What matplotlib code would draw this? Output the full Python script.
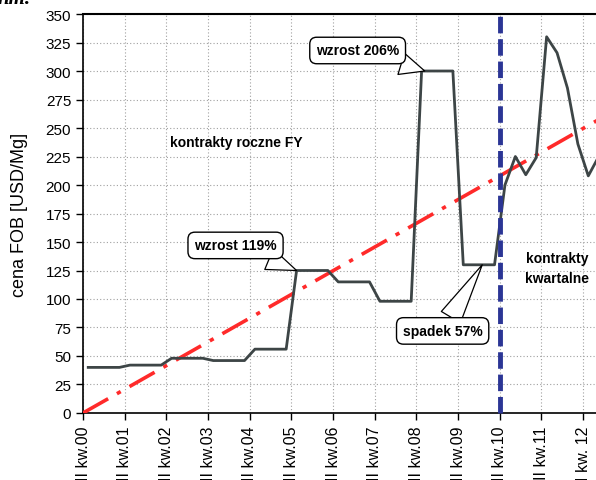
import matplotlib
matplotlib.use('Agg')
import matplotlib.pyplot as plt

plt.rcParams['font.family'] = ['Liberation Sans Narrow', 'Liberation Sans', 'DejaVu Sans']

# year tick labels (one per year, II quarter)
tick_years = list(range(13))
tick_labels = ['II kw.%02d' % y for y in range(12)] + ['I kw. 12']

# quarterly FOB price, starting II kw.00 (point at middle of each quarter)
quarter_t = [0.125 + 0.25 * k for k in range(50)]
price = [40, 40, 40, 40,
         42, 42, 42, 42,
         48, 48, 48, 48,
         46, 46, 46, 46,
         56, 56, 56, 56,
         125, 125, 125, 125,
         115, 115, 115, 115,
         98, 98, 98, 98,
         300, 300, 300, 300,
         130, 130, 130, 130,
         200, 225, 209, 224, 330, 316, 285, 236, 208, 225]

# trend line end points
trend_t = [0.0, 12.5]
trend_v = [0.0, 260.0]

# switch annual -> quarterly contracts
switch_t = [10.0, 10.0]
switch_v = [0, 352]

fig = plt.figure(figsize=(5.96, 4.81), dpi=100)
ax = fig.add_axes([0.1393, 0.1393, 0.8607, 0.8295])

ax.plot(trend_t, trend_v, color='#ff2a2a', lw=2.6, dashes=(8, 2.8, 1.2, 2.8), zorder=3)
ax.plot(quarter_t, price, color='#3d4546', lw=2.0, zorder=4)
ax.plot(switch_t, switch_v, color='#2b3595', lw=3.5, dashes=(3.4, 1.2), zorder=5, clip_on=False)

ax.set_xlim(0, 12.31)
ax.set_ylim(0, 350)
ax.set_yticks(range(0, 351, 25))
ax.set_xticks(tick_years)
ax.set_xticklabels(tick_labels, rotation=90, va='top', ha='center')
ax.tick_params(axis='both', length=5, width=1, direction='out')
ax.tick_params(axis='y', labelsize=11)
ax.tick_params(axis='x', labelsize=11.5, pad=4)
ax.grid(True, color='#a0a0a0', linestyle=(0, (1, 2)), lw=0.8)
ax.set_axisbelow(True)
ax.spines['right'].set_visible(False)
ax.spines['top'].set_linewidth(1.5)
ax.spines['left'].set_linewidth(1.2)
ax.spines['bottom'].set_linewidth(1.2)

ax.set_ylabel('cena FOB [USD/Mg]', fontsize=13)
ax.yaxis.set_label_coords(-0.108, 0.5)

ax.text(3.67, 238, 'kontrakty roczne FY', fontsize=10, fontweight='bold',
        ha='center', va='center')
ax.text(11.37, 127, 'kontrakty\nkwartalne', fontsize=10, fontweight='bold',
        ha='center', va='center', linespacing=1.5)

box = dict(boxstyle='round,pad=0.45,rounding_size=0.5', fc='white', ec='black', lw=1)
arrow = dict(arrowstyle='wedge,tail_width=1.6,shrink_factor=0.5', fc='white', ec='black',
             lw=0.9, shrinkA=0, shrinkB=0, mutation_scale=10)

ax.annotate('wzrost 119%', xy=(5.125, 125), xytext=(3.66, 147), fontsize=10,
            fontweight='bold', ha='center', va='center', bbox=box, arrowprops=arrow, zorder=6)
ax.annotate('wzrost 206%', xy=(8.2, 300), xytext=(6.59, 318), fontsize=10,
            fontweight='bold', ha='center', va='center', bbox=box, arrowprops=arrow, zorder=6)
ax.annotate('spadek 57%', xy=(9.58, 130), xytext=(8.63, 72), fontsize=10,
            fontweight='bold', ha='center', va='center', bbox=box, arrowprops=arrow, zorder=6)

fig.text(-0.004, 1.002, 'nm.', fontsize=15, fontstyle='italic', fontweight='bold',
         family='Liberation Serif', va='center', ha='left')

fig.savefig('out.png', dpi=100)
